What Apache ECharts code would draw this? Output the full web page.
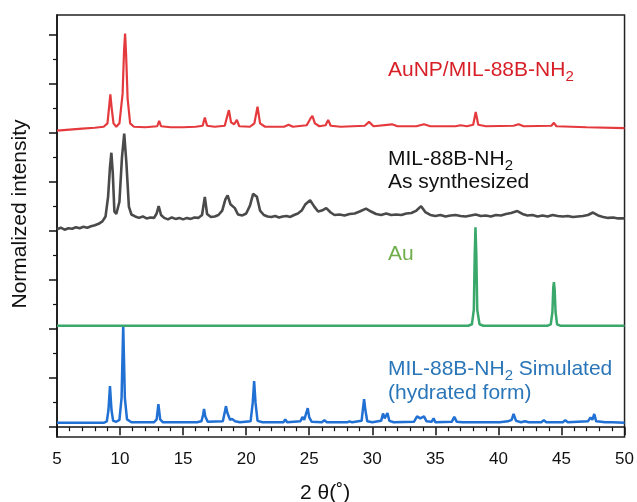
<!DOCTYPE html>
<html>
<head>
<meta charset="utf-8">
<script src="https://cdn.jsdelivr.net/npm/echarts@6/dist/echarts.min.js"></script>
<style>
  html, body { margin: 0; padding: 0; background: #fff; }
  #chart { width: 637px; height: 502px; }
</style>
</head>
<body>
<div id="chart"></div>
<script>
// [2θ, intensity above the trace's own baseline offset]
var auNpMil = [[5,0.05],[6,0.07],[7,0.09],[8,0.11],[8.7,0.13],[9.0,0.2],[9.12,0.5],[9.23,0.79],[9.34,0.5],[9.48,0.2],[9.7,0.13],[9.95,0.2],[10.2,0.8],[10.32,1.7],[10.4,2.03],[10.48,1.6],[10.6,0.7],[10.8,0.2],[11.1,0.13],[12,0.12],[12.95,0.14],[13.1,0.25],[13.25,0.14],[14,0.12],[15,0.12],[16,0.13],[16.55,0.15],[16.72,0.32],[16.9,0.15],[17.5,0.13],[18.3,0.15],[18.5,0.35],[18.63,0.47],[18.8,0.22],[19.05,0.18],[19.26,0.27],[19.45,0.14],[20.3,0.13],[20.65,0.2],[20.9,0.54],[21.1,0.2],[21.5,0.13],[23,0.13],[23.36,0.17],[23.7,0.13],[24.8,0.16],[25.1,0.3],[25.25,0.35],[25.45,0.2],[25.8,0.14],[26.3,0.16],[26.5,0.27],[26.7,0.15],[27.5,0.13],[29.4,0.15],[29.74,0.23],[30.1,0.14],[31.56,0.18],[32,0.14],[33.5,0.14],[34.1,0.18],[34.6,0.14],[36.6,0.14],[37.0,0.16],[37.5,0.14],[38.0,0.17],[38.2,0.43],[38.4,0.17],[39,0.14],[41.2,0.15],[41.6,0.18],[42,0.14],[44.2,0.15],[44.4,0.21],[44.6,0.14],[47,0.12],[50,0.1]];

var milSynth = [[5.0,0.04],[5.3,0.07],[5.6,0.03],[5.9,0.06],[6.2,0.05],[6.5,0.08],[6.8,0.06],[7.1,0.09],[7.4,0.07],[7.7,0.1],[8.0,0.12],[8.3,0.15],[8.6,0.2],[8.85,0.3],[9.05,0.7],[9.2,1.3],[9.31,1.6],[9.42,1.2],[9.55,0.4],[9.7,0.35],[9.95,0.6],[10.15,1.5],[10.33,1.99],[10.5,1.4],[10.7,0.5],[10.9,0.34],[11.2,0.3],[11.5,0.27],[11.8,0.3],[12.1,0.26],[12.4,0.28],[12.7,0.27],[12.9,0.36],[13.06,0.51],[13.25,0.33],[13.5,0.27],[13.8,0.24],[14.1,0.28],[14.4,0.25],[14.7,0.27],[15.0,0.24],[15.3,0.27],[15.6,0.25],[15.9,0.28],[16.2,0.27],[16.5,0.33],[16.72,0.7],[16.9,0.35],[17.2,0.29],[17.5,0.3],[17.8,0.33],[18.1,0.42],[18.35,0.65],[18.53,0.73],[18.75,0.55],[19.1,0.47],[19.35,0.34],[19.7,0.32],[20.0,0.36],[20.3,0.52],[20.55,0.76],[20.68,0.79],[20.85,0.7],[21.1,0.42],[21.4,0.33],[21.7,0.3],[22.0,0.29],[22.3,0.31],[22.6,0.28],[22.9,0.3],[23.2,0.31],[23.5,0.29],[23.8,0.33],[24.1,0.36],[24.4,0.42],[24.7,0.55],[25.07,0.63],[25.4,0.5],[25.7,0.4],[26.0,0.42],[26.35,0.47],[26.7,0.38],[27.0,0.33],[27.4,0.34],[27.8,0.32],[28.2,0.35],[28.6,0.36],[29.0,0.4],[29.5,0.46],[29.9,0.4],[30.3,0.35],[30.7,0.33],[31.1,0.36],[31.5,0.33],[31.9,0.34],[32.3,0.33],[32.7,0.36],[33.1,0.37],[33.5,0.42],[33.87,0.51],[34.2,0.39],[34.6,0.33],[35.0,0.31],[35.4,0.33],[35.8,0.3],[36.2,0.32],[36.6,0.33],[37.0,0.31],[37.4,0.3],[37.8,0.32],[38.2,0.34],[38.6,0.31],[39.0,0.32],[39.4,0.3],[39.8,0.33],[40.2,0.32],[40.6,0.35],[41.0,0.37],[41.5,0.41],[41.9,0.35],[42.3,0.32],[42.7,0.33],[43.1,0.3],[43.5,0.32],[43.9,0.3],[44.3,0.33],[44.7,0.31],[45.1,0.3],[45.5,0.31],[45.9,0.29],[46.3,0.3],[46.7,0.31],[47.1,0.33],[47.5,0.38],[47.9,0.32],[48.3,0.29],[48.7,0.27],[49.1,0.28],[49.5,0.26],[50.0,0.26]];

var auRef = [[5,0.07],[37.6,0.07],[37.9,0.1],[38.05,0.4],[38.12,1.5],[38.18,2.08],[38.25,1.5],[38.32,0.4],[38.5,0.1],[38.8,0.07],[43.9,0.07],[44.15,0.1],[44.28,0.35],[44.35,0.85],[44.4,0.96],[44.46,0.8],[44.53,0.35],[44.65,0.1],[44.9,0.07],[50,0.07]];

var milSim = [[5,0.09],[8.7,0.09],[8.95,0.12],[9.08,0.35],[9.2,0.84],[9.32,0.35],[9.45,0.13],[9.7,0.11],[9.95,0.15],[10.12,0.6],[10.25,2.08],[10.38,0.6],[10.55,0.16],[10.9,0.1],[12.7,0.1],[12.9,0.16],[13.04,0.47],[13.18,0.16],[13.4,0.1],[15.8,0.1],[15.95,0.14],[16.1,0.1],[16.45,0.12],[16.58,0.25],[16.66,0.37],[16.76,0.22],[16.95,0.11],[18.15,0.12],[18.32,0.33],[18.4,0.43],[18.5,0.3],[18.6,0.31],[18.72,0.15],[18.88,0.17],[19.0,0.21],[19.12,0.12],[19.5,0.1],[20.35,0.12],[20.52,0.5],[20.63,0.94],[20.74,0.5],[20.9,0.13],[21.3,0.1],[22.95,0.1],[23.1,0.16],[23.25,0.1],[24.3,0.12],[24.46,0.21],[24.6,0.15],[24.78,0.3],[24.88,0.39],[25.0,0.2],[25.2,0.11],[26.0,0.1],[26.2,0.14],[26.4,0.1],[28.0,0.1],[28.2,0.12],[28.4,0.1],[29.15,0.13],[29.27,0.4],[29.35,0.57],[29.45,0.35],[29.6,0.12],[30.0,0.1],[30.7,0.13],[30.85,0.28],[30.98,0.18],[31.1,0.22],[31.2,0.29],[31.35,0.13],[31.7,0.1],[33.3,0.11],[33.55,0.22],[33.8,0.18],[34.1,0.22],[34.3,0.12],[34.7,0.11],[34.86,0.18],[35.0,0.1],[36.3,0.11],[36.5,0.21],[36.7,0.11],[37.15,0.1],[37.28,0.14],[37.45,0.1],[38.45,0.1],[38.6,0.12],[38.8,0.1],[39.75,0.1],[39.9,0.12],[40.1,0.1],[40.75,0.12],[40.9,0.16],[41.05,0.15],[41.2,0.27],[41.4,0.13],[41.8,0.1],[42.1,0.12],[42.4,0.1],[43.4,0.1],[43.6,0.14],[43.8,0.1],[45.1,0.1],[45.3,0.14],[45.5,0.1],[47.1,0.12],[47.3,0.2],[47.45,0.15],[47.6,0.27],[47.75,0.12],[48.15,0.11],[48.3,0.14],[48.45,0.1],[48.75,0.1],[48.9,0.13],[49.05,0.1],[50,0.09]];

var traceOffsets = [6, 4, 2, 0];
var yMajorTicks = [0, 1, 2, 3, 4, 5, 6, 7, 8];
var yMinorTicks = [0.5, 1.5, 2.5, 3.5, 4.5, 5.5, 6.5, 7.5];

(function() {
  var font = '"Liberation Sans", Arial, sans-serif';
  var traces = [
    { data: auNpMil, color: '#e53a3d', width: 2.2 },
    { data: milSynth, color: '#4a4a4a', width: 2.6 },
    { data: auRef, color: '#3aa86b', width: 2.5 },
    { data: milSim, color: '#2170d4', width: 2.5 }
  ];

  function shifted(pts, off) {
    return pts.map(function(p) { return [p[0], p[1] + off]; });
  }

  // text label with optional subscript, placed by top-left
  function label(x, y, text, color) {
    return {
      type: 'text', x: x, y: y, silent: true,
      style: {
        text: text,
        fill: color,
        verticalAlign: 'top',
        rich: {
          m: { fontSize: 21, lineHeight: 28, fontFamily: font, fill: color },
          s: { fontSize: 15, lineHeight: 14, padding: [14, 0, 0, 0], fontFamily: font, fill: color }
        }
      }
    };
  }

  var chart = echarts.init(document.getElementById('chart'), null, { renderer: 'canvas' });
  var yBase = {
    type: 'value', min: -0.2, max: 8.41, position: 'left',
    axisLabel: { show: false },
    splitLine: { show: false }
  };

  chart.setOption({
    animation: false,
    grid: { left: 57, right: 9, top: 15, bottom: 65, show: true, borderColor: '#222', borderWidth: 1.5 },
    xAxis: {
      type: 'value', min: 5, max: 50, interval: 5,
      axisLine: { lineStyle: { color: '#111', width: 1.5 } },
      axisTick: { length: 8, lineStyle: { color: '#111', width: 1.5 } },
      minorTick: { show: true, splitNumber: 5, length: 4, lineStyle: { color: '#111', width: 1.2 } },
      axisLabel: { color: '#111', fontSize: 17, fontFamily: font, margin: 14 },
      splitLine: { show: false }
    },
    yAxis: [
      Object.assign({}, yBase, {
        axisLine: { show: true, lineStyle: { color: '#111', width: 1.5 } },
        axisTick: { show: true, length: 8, customValues: yMajorTicks, lineStyle: { color: '#111', width: 1.5 } }
      }),
      Object.assign({}, yBase, {
        axisLine: { show: false },
        axisTick: { show: true, length: 4, customValues: yMinorTicks, lineStyle: { color: '#111', width: 1.2 } }
      })
    ],
    series: traces.map(function(t, i) {
      return {
        type: 'line',
        data: shifted(t.data, traceOffsets[i]),
        showSymbol: false,
        lineStyle: { color: t.color, width: t.width },
        z: 4 - i
      };
    }),
    graphic: [
      label(388, 56, '{m|AuNP/MIL-88B-NH}{s|2}', '#d71f27'),
      label(388, 145, '{m|MIL-88B-NH}{s|2}', '#111'),
      label(388, 168, '{m|As synthesized}', '#111'),
      label(388, 240, '{m|Au}', '#6fae4b'),
      label(388, 355, '{m|MIL-88B-NH}{s|2}{m| Simulated}', '#2a76b8'),
      label(388, 379, '{m|(hydrated form)}', '#2a76b8'),
      label(300, 479, '{m|2 θ(˚)}', '#111'),
      {
        type: 'text', x: 20, y: 214, rotation: Math.PI / 2, silent: true,
        style: {
          text: 'Normalized intensity', fill: '#111', fontSize: 21, fontFamily: font,
          align: 'center', verticalAlign: 'middle'
        }
      }
    ]
  });
  window.addEventListener('resize', function() { chart.resize(); });
})();
</script>
</body>
</html>
